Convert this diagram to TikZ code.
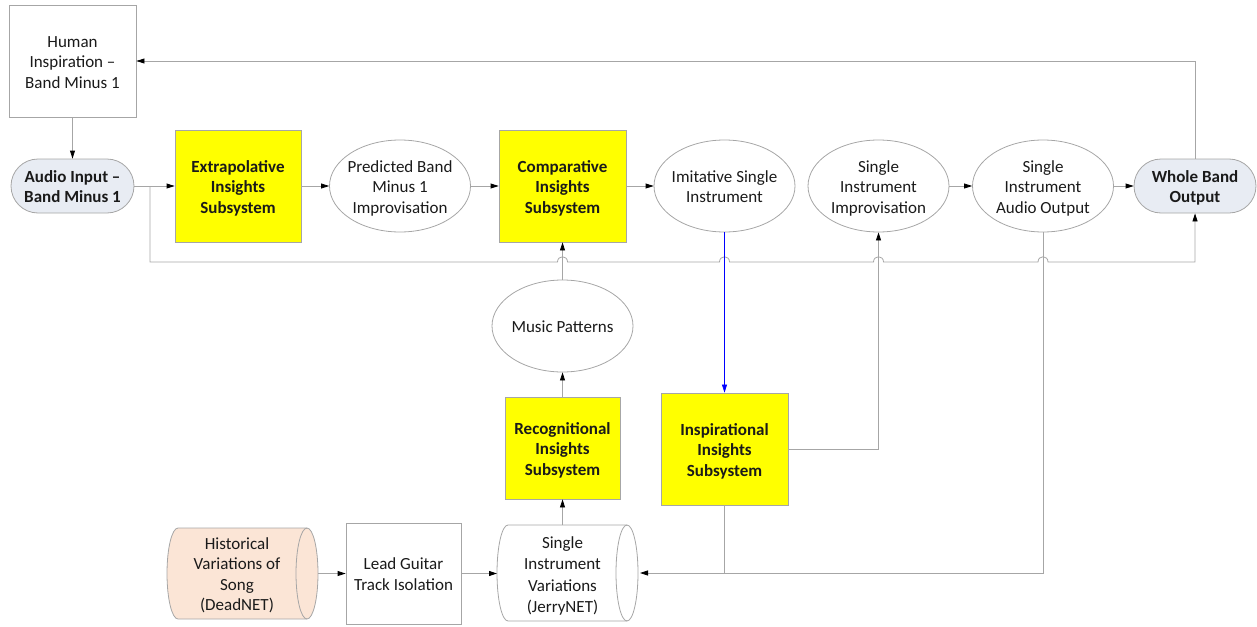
\documentclass[tikz,border=0pt]{standalone}
\usepackage{fontspec}
\setmainfont{Carlito}
\usetikzlibrary{arrows.meta,shapes.misc,shapes.geometric,calc}
\definecolor{lg}{HTML}{A6A6A6}
\definecolor{txt}{HTML}{1A1A1A}
\definecolor{termfill}{HTML}{E8ECF3}
\definecolor{histfill}{HTML}{FBE5D6}
\definecolor{ybox}{HTML}{FFFF00}
\newcommand{\ct}[1]{\makebox[0pt]{\raisebox{-2.5pt}[\height][\depth]{\begin{tabular}{@{}c@{}}#1\end{tabular}}}}
\newcommand{\drumshape}[5]{%
  \pgfmathsetmacro{\ry}{(#4-#3)/2}%
  \path[fill=#5, draw=lg, line width=0.8pt] (#1+11,#3) -- (#2-11,#3)
    arc[start angle=90,end angle=-90,x radius=11pt,y radius=\ry pt]
    -- (#1+11,#4)
    arc[start angle=270,end angle=90,x radius=11pt,y radius=\ry pt] -- cycle;
  \draw[lg, line width=0.8pt] (#2-11,#3)
    arc[start angle=90,end angle=270,x radius=11pt,y radius=\ry pt];
}
\begin{document}
\begin{tikzpicture}[x=1pt,y=-1pt,
  font=\fontsize{17}{20.5}\selectfont,
  every node/.style={inner sep=0pt, text=txt},
  box/.style={draw=lg, fill=white, line width=0.8pt, rectangle, minimum width=127pt, minimum height=112pt},
  yelbox/.style={box, fill=ybox, font=\fontsize{17}{20.5}\selectfont\bfseries},
  ell/.style={draw=lg, ellipse, line width=0.8pt, minimum width=141pt, minimum height=92pt},
  term/.style={draw=lg, fill=termfill, line width=0.8pt, rounded rectangle, minimum width=123pt, minimum height=54pt, font=\fontsize{17}{20.5}\selectfont\bfseries},
  ln/.style={draw=lg, line width=0.8pt},
  arr/.style={ln, -{Triangle[length=8pt,width=5pt,black]}},
  bluearr/.style={draw=blue, line width=0.6pt, -{Triangle[length=8pt,width=5pt,blue]}}
]
\useasboundingbox (0,0) rectangle (1257,626);

% nodes
\node[box] (human) at (72.5,61) {\ct{Human\\Inspiration –\\Band Minus 1}};
\node[term] (audio) at (72.5,186) {\ct{Audio Input –\\Band Minus 1}};
\node[yelbox, minimum width=126pt] (extrap) at (238,186) {\ct{Extrapolative\\Insights\\Subsystem}};
\node[ell] (pred) at (400,186) {\ct{Predicted Band\\Minus 1\\Improvisation}};
\node[yelbox] (comp) at (562.5,186) {\ct{Comparative\\Insights\\Subsystem}};
\node[ell] (imit) at (724.5,186) {\ct{Imitative Single\\Instrument}};
\node[ell] (impro) at (878.5,186) {\ct{Single\\Instrument\\Improvisation}};
\node[ell] (aout) at (1043,186) {\ct{Single\\Instrument\\Audio Output}};
\node[term, minimum width=122pt] (whole) at (1195,186) {\ct{Whole Band\\Output}};
\node[ell] (music) at (562.5,326) {\ct{Music Patterns}};
\node[yelbox, minimum width=115pt, minimum height=102pt] (recog) at (562.5,448) {\ct{Recognitional\\Insights\\Subsystem}};
\node[yelbox, minimum height=112pt] (insp) at (724.5,449) {\ct{Inspirational\\Insights\\Subsystem}};
\node[box, minimum width=115pt, minimum height=101pt] (lead) at (403.5,573.5) {\ct{Lead Guitar\\Track Isolation}};

% drums
\drumshape{167}{318}{528}{619}{histfill}
\drumshape{497}{638}{525}{621}{white}
\node (hist) at (237,573.5) {\ct{Historical\\Variations of\\Song\\(DeadNET)}};
\node[font=\fontsize{17}{21.5}\selectfont] (jerry) at (562.5,573.5) {\ct{Single\\Instrument\\Variations\\(JerryNET)}};
\coordinate (histE) at (318,573.5);
\coordinate (jerryW) at (497,573.5);
\coordinate (jerryE) at (640,573);
\coordinate (jerryN) at (562.5,525);
\coordinate (branch) at (150,186);

% connectors
\draw[arr] (human.south) -- (audio.north);
\draw[arr] (audio.east) -- (extrap.west);
\draw[arr] (extrap.east) -- (pred.west);
\draw[arr] (pred.east) -- (comp.west);
\draw[arr] (comp.east) -- (imit.west);
\draw[arr] (impro.east) -- (aout.west);
\draw[arr] (aout.east) -- (whole.west);
\draw[arr] (whole.north) |- (human.east);
\draw[arr] (branch) -- (150,262)
  -- (557.5,262) .. controls (557.5,255) and (567.5,255) .. (567.5,262)
  -- (719.5,262) .. controls (719.5,255) and (729.5,255) .. (729.5,262)
  -- (873.5,262) .. controls (873.5,255) and (883.5,255) .. (883.5,262)
  -- (1038,262) .. controls (1038,255) and (1048,255) .. (1048,262)
  -- (1195,262) -- (whole.south);
\draw[arr] (music.north) -- (comp.south);
\draw[arr] (recog.north) -- (music.south);
\draw[arr] (jerryN) -- (recog.south);
\draw[arr] (histE) -- (lead.west);
\draw[arr] (lead.east) -- (jerryW);
\draw[bluearr] (imit.south) -- (insp.north);
\draw[arr] (insp.east) -| (impro.south);
\draw[arr] (aout.south) |- (jerryE);
\draw[ln] (insp.south) -- (insp.south |- jerryE);
\end{tikzpicture}
\end{document}
